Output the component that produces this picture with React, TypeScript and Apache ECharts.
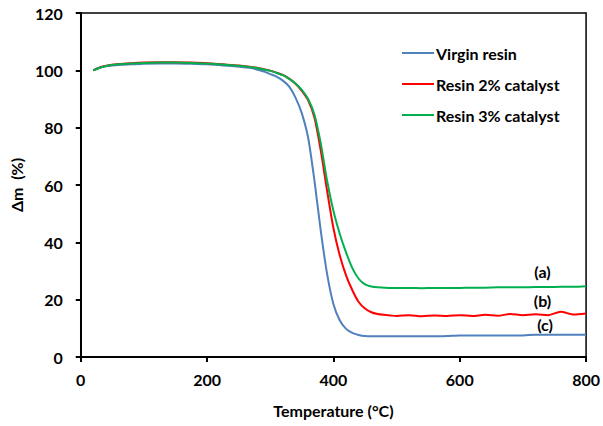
import React, { useEffect, useRef } from "react";
import * as echarts from "echarts";

const temps = [20, 30, 40, 60, 80, 100, 125, 150, 175, 200, 225, 250, 270, 290, 300, 310, 320, 330, 340, 350, 360, 370, 380, 390, 400, 410, 420, 430, 440, 450, 460, 470, 480, 490, 500, 520, 540, 560, 580, 600, 620, 640, 660, 680, 700, 720, 740, 760, 780, 800];

const virginResin = [100.0, 100.9, 101.4, 101.9, 102.1, 102.3, 102.4, 102.4, 102.3, 102.1, 101.7, 101.3, 100.8, 99.6, 98.7, 97.8, 96.4, 94.3, 90.5, 85.0, 76.5, 61.5, 44.0, 29.0, 18.5, 12.8, 9.8, 8.4, 7.7, 7.3, 7.2, 7.2, 7.2, 7.2, 7.2, 7.2, 7.2, 7.2, 7.3, 7.5, 7.5, 7.5, 7.5, 7.5, 7.5, 7.8, 7.8, 7.8, 7.8, 7.8];

const resin2 = [100.0, 101.0, 101.6, 102.2, 102.5, 102.7, 102.8, 102.8, 102.7, 102.5, 102.1, 101.7, 101.2, 100.4, 99.9, 99.2, 98.4, 97.1, 95.3, 92.8, 89.5, 83.5, 72.0, 58.0, 45.0, 35.5, 28.5, 23.3, 19.2, 16.9, 15.6, 15.0, 14.7, 14.5, 14.3, 14.6, 14.2, 14.5, 14.3, 14.6, 14.3, 14.7, 14.4, 15.0, 14.6, 14.9, 14.6, 15.8, 14.8, 15.2];

const resin3 = [100.0, 100.9, 101.5, 102.1, 102.4, 102.6, 102.7, 102.7, 102.6, 102.4, 102.0, 101.6, 101.1, 100.3, 99.8, 99.1, 98.3, 97.0, 95.4, 93.2, 90.0, 84.5, 74.5, 61.5, 51.0, 43.0, 36.5, 31.0, 27.3, 25.3, 24.6, 24.3, 24.2, 24.1, 24.1, 24.1, 24.0, 24.1, 24.1, 24.1, 24.2, 24.2, 24.3, 24.3, 24.3, 24.4, 24.4, 24.5, 24.5, 24.7];

const seriesNames = ["Virgin resin", "Resin 2% catalyst", "Resin 3% catalyst"];
const seriesColors = ["#4F81BD", "#FF0000", "#00B050"];
const annotationLabels = ["(c)", "(b)", "(a)"];
const annotationCoords: [number, number][] = [[735, 11.2], [731, 19.6], [731, 30.0]];

const FONT = "Lato, 'Open Sans', sans-serif";
const FS = 16;

export default function App() {
  const ref = useRef<HTMLDivElement>(null);
  useEffect(() => {
    if (!ref.current) return;
    const chart = echarts.init(ref.current, undefined, { renderer: "svg" });
    const allValues = [virginResin, resin2, resin3];
    chart.setOption({
      animation: false,
      backgroundColor: "#fff",
      grid: {
        left: 78,
        right: 16,
        top: 13,
        bottom: 69,
        show: true,
        borderColor: "#000",
        borderWidth: 1.5,
      },
      legend: {
        orient: "vertical",
        left: 397,
        top: 40,
        itemWidth: 32,
        itemHeight: 14,
        itemGap: 15,
        icon: "path://M0,0 L32,0 L32,2 L0,2 Z",
        textStyle: { fontFamily: FONT, fontSize: FS, fontWeight: "bold", color: "#000", padding: [0, 0, 0, -3] },
        data: seriesNames,
      },
      xAxis: {
        type: "value",
        min: 0,
        max: 800,
        interval: 200,
        name: "Temperature (\u00B0C)",
        nameLocation: "middle",
        nameGap: 45,
        nameTextStyle: { fontFamily: FONT, fontSize: FS, fontWeight: "bold", color: "#000" },
        axisLine: { show: true, lineStyle: { color: "#000", width: 2 } },
        axisTick: { show: true, length: 5, lineStyle: { color: "#000", width: 2 } },
        axisLabel: { fontFamily: FONT, fontSize: FS, fontWeight: "bold", color: "#000", margin: 14 },
        splitLine: { show: false },
      },
      yAxis: {
        type: "value",
        min: 0,
        max: 120,
        interval: 20,
        name: "\u0394m  (%)",
        nameLocation: "middle",
        nameGap: 50,
        nameRotate: 90,
        nameTextStyle: { fontFamily: FONT, fontSize: FS, fontWeight: "bold", color: "#000" },
        axisLine: { show: true, lineStyle: { color: "#000", width: 2 } },
        axisTick: { show: true, length: 5, lineStyle: { color: "#000", width: 2 } },
        axisLabel: { fontFamily: FONT, fontSize: FS, fontWeight: "bold", color: "#000", margin: 18 },
        splitLine: { show: false },
      },
      series: seriesNames.map((name, i) => ({
        name,
        type: "line",
        showSymbol: false,
        symbol: "none",
        smooth: 0.25,
        z: i === 1 ? 3 : i === 2 ? 4 : 2,
        lineStyle: { color: seriesColors[i], width: 2 },
        itemStyle: { color: seriesColors[i] },
        data: temps.map((t, k) => [t, allValues[i][k]]),
        markPoint: {
          symbol: "circle",
          symbolSize: 1,
          itemStyle: { color: "rgba(0,0,0,0)" },
          label: {
            show: true,
            position: "inside",
            formatter: () => annotationLabels[i],
            fontFamily: FONT,
            fontSize: FS,
            fontWeight: "bold",
            color: "#000",
          },
          data: [{ coord: annotationCoords[i] }],
        },
      })),
    });
    return () => chart.dispose();
  }, []);
  return (
    <div
      ref={ref}
      style={{ position: "fixed", left: 0, top: 0, width: 603, height: 426 }}
    />
  );
}
